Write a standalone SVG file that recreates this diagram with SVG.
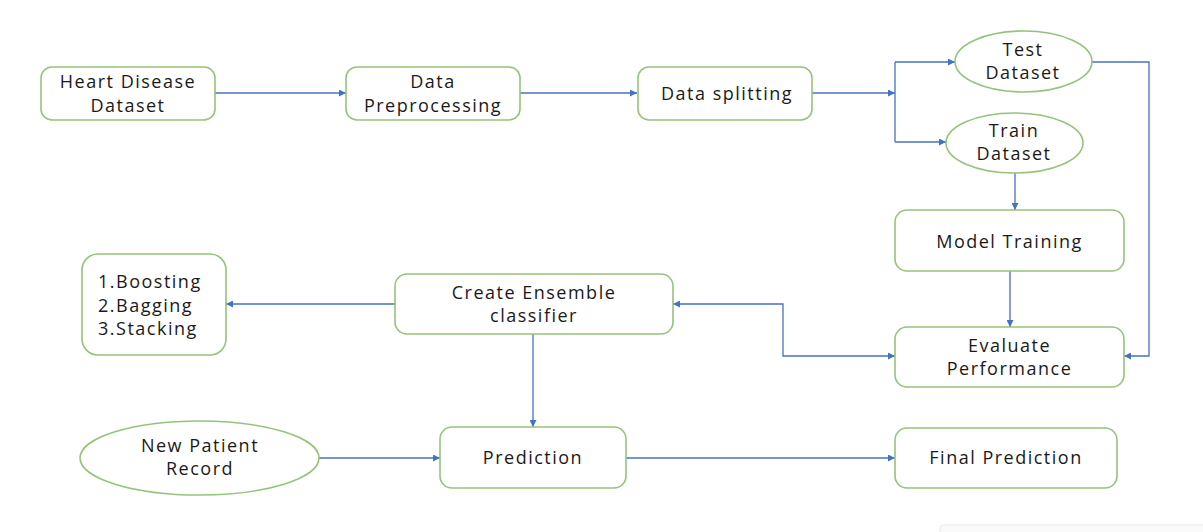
<svg xmlns="http://www.w3.org/2000/svg" width="1203" height="532" viewBox="0 0 1203 532">
  <defs>
    <style>
      .box { fill: #ffffff; stroke: #94c47a; stroke-width: 1.6; }
      .lbl { font-family: "Open Sans", "Liberation Sans", sans-serif; font-size: 18px; fill: #1a1a1a; letter-spacing: 1.5px; text-anchor: middle; }
      .lft { text-anchor: start; }
      .conn { fill: none; stroke: #4472c4; stroke-width: 1.3; }
    </style>
    <marker id="arr" viewBox="0 0 10 10" refX="10" refY="5" markerWidth="8" markerHeight="7" markerUnits="userSpaceOnUse" orient="auto-start-reverse">
      <path d="M0,0 L10,5 L0,10 z" fill="#4472c4"/>
    </marker>
  </defs>
  <rect width="1203" height="532" fill="#ffffff"/>

  <g id="connectors">
    <path class="conn" d="M215,93 H346" marker-end="url(#arr)"/>
    <path class="conn" d="M520,93 H637" marker-end="url(#arr)"/>
    <path class="conn" d="M812,93 H895" marker-end="url(#arr)"/>
    <path class="conn" d="M895,62 V142"/>
    <path class="conn" d="M895,62 H955" marker-end="url(#arr)"/>
    <path class="conn" d="M895,142 H946" marker-end="url(#arr)"/>
    <path class="conn" d="M1015,173 V210" marker-end="url(#arr)"/>
    <path class="conn" d="M1092,62 H1149 V356 H1124" marker-end="url(#arr)"/>
    <path class="conn" d="M1010,271 V327" marker-end="url(#arr)"/>
    <path class="conn" d="M673,304 H783 V356 H895" marker-start="url(#arr)" marker-end="url(#arr)"/>
    <path class="conn" d="M395,304 H226" marker-end="url(#arr)"/>
    <path class="conn" d="M533,334 V427" marker-end="url(#arr)"/>
    <path class="conn" d="M319,458 H440" marker-end="url(#arr)"/>
    <path class="conn" d="M626,458 H895" marker-end="url(#arr)"/>
  </g>

  <g id="heart-disease-dataset">
    <rect class="box" x="41" y="67" width="174" height="53" rx="11"/>
    <text class="lbl" x="128" y="88">Heart Disease</text>
    <text class="lbl" x="128" y="112">Dataset</text>
  </g>
  <g id="data-preprocessing">
    <rect class="box" x="346" y="67" width="174" height="53" rx="11"/>
    <text class="lbl" x="433" y="88">Data</text>
    <text class="lbl" x="433" y="112">Preprocessing</text>
  </g>
  <g id="data-splitting">
    <rect class="box" x="638" y="67" width="174" height="53" rx="11"/>
    <text class="lbl" x="727" y="100">Data splitting</text>
  </g>
  <g id="test-dataset">
    <ellipse class="box" cx="1023.5" cy="61.5" rx="68.5" ry="30.5"/>
    <text class="lbl" x="1023" y="56">Test</text>
    <text class="lbl" x="1023" y="79">Dataset</text>
  </g>
  <g id="train-dataset">
    <ellipse class="box" cx="1014.5" cy="143" rx="68.5" ry="30"/>
    <text class="lbl" x="1014" y="137">Train</text>
    <text class="lbl" x="1014" y="160">Dataset</text>
  </g>
  <g id="model-training">
    <rect class="box" x="895" y="210" width="229" height="61" rx="12"/>
    <text class="lbl" x="1009.5" y="248">Model Training</text>
  </g>
  <g id="evaluate-performance">
    <rect class="box" x="895" y="327" width="229" height="60" rx="12"/>
    <text class="lbl" x="1009.5" y="352">Evaluate</text>
    <text class="lbl" x="1009.5" y="375">Performance</text>
  </g>
  <g id="create-ensemble">
    <rect class="box" x="395" y="274" width="278" height="60" rx="12"/>
    <text class="lbl" x="534" y="299">Create Ensemble</text>
    <text class="lbl" x="534" y="322">classifier</text>
  </g>
  <g id="ensemble-methods">
    <rect class="box" x="82" y="254" width="144" height="101" rx="16"/>
    <text class="lbl lft" x="98" y="288">1.Boosting</text>
    <text class="lbl lft" x="98" y="312">2.Bagging</text>
    <text class="lbl lft" x="98" y="335">3.Stacking</text>
  </g>
  <g id="new-patient-record">
    <ellipse class="box" cx="199.5" cy="458" rx="119.5" ry="37"/>
    <text class="lbl" x="200" y="452">New Patient</text>
    <text class="lbl" x="200" y="475">Record</text>
  </g>
  <g id="prediction">
    <rect class="box" x="440" y="427" width="186" height="61" rx="12"/>
    <text class="lbl" x="533" y="464">Prediction</text>
  </g>
  <g id="final-prediction">
    <rect class="box" x="895" y="428" width="222" height="60" rx="12"/>
    <text class="lbl" x="1006" y="464">Final Prediction</text>
  </g>

  <rect x="940" y="525" width="270" height="20" rx="3" fill="#fafafa" stroke="#e8e8e8" stroke-width="1"/>
</svg>
